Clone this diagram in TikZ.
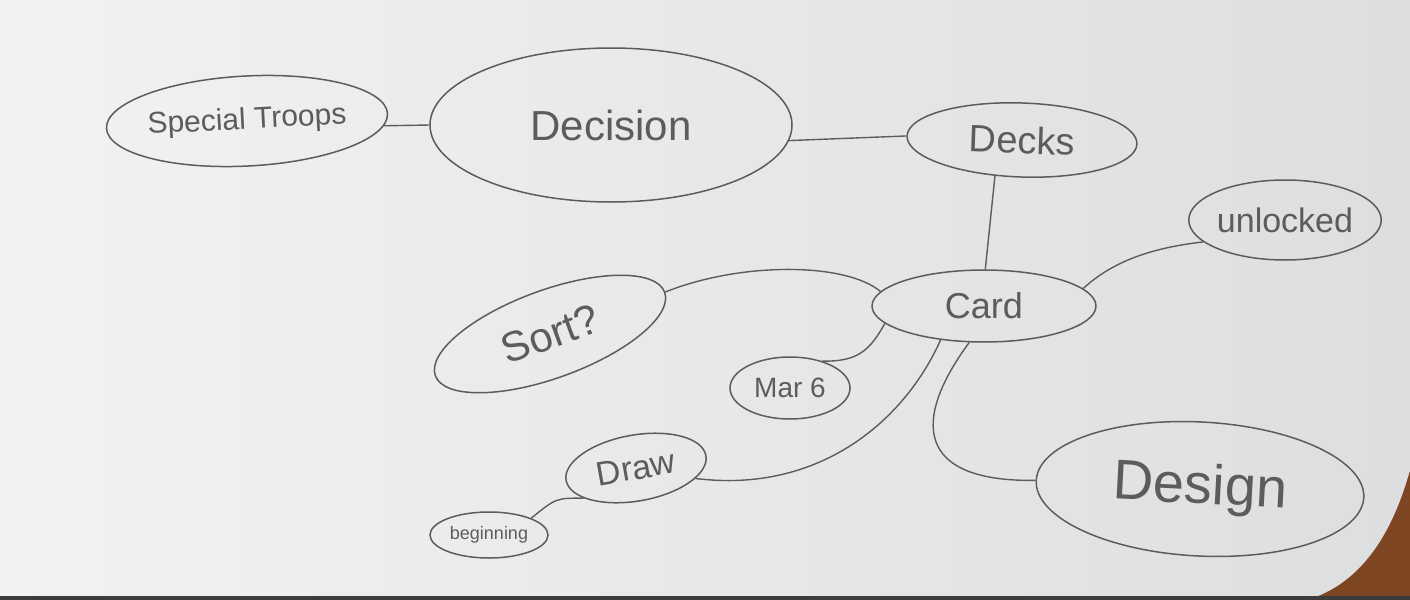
\documentclass[tikz,border=0pt]{standalone}
\usepackage{fontspec}
\setmainfont{Liberation Sans}
\usetikzlibrary{shapes.geometric}
\definecolor{pencil}{HTML}{5C5C5C}
\definecolor{boardA}{HTML}{F2F2F2}
\definecolor{boardB}{HTML}{DCDEE0}
\definecolor{wood}{HTML}{7E4522}
\definecolor{strip}{HTML}{3C3C3C}
\tikzset{
  bubble/.style={draw=pencil, line width=0.75pt, ellipse, inner sep=0pt, text=pencil},
  link/.style={draw=pencil, line width=0.7pt},
  fs/.style={font=\fontsize{#1}{#1}\selectfont}
}
\begin{document}
\begin{tikzpicture}[x=0.5pt,y=-0.5pt]
\useasboundingbox (0,0) rectangle (1410,600);
% background
\fill[wood] (1250,420) rectangle (1410,600);
\shade[left color=boardA, right color=boardB]
  (0,0) -- (1410,0) -- (1410,470) .. controls (1392,535) and (1362,578) .. (1318,596) -- (0,596) -- cycle;
\fill[strip] (0,596) rectangle (1410,600);
% nodes
\node[bubble, fs=15, minimum width=132pt, minimum height=45pt, rotate=3] (troops) at (247,121) {Special Troops};
\node[bubble, fs=21, minimum width=181pt, minimum height=77pt] (decision) at (611,125) {Decision};
\node[bubble, fs=19, minimum width=115pt, minimum height=37pt, rotate=-2] (decks) at (1022,140) {Decks};
\node[bubble, fs=17, minimum width=85pt, minimum height=40pt] (unlocked) at (1285,220) {unlocked};
\node[bubble, fs=18, minimum width=112pt, minimum height=36pt] (card) at (984,306) {Card};
\node[bubble, fs=21, minimum width=122pt, minimum height=44pt, rotate=20] (sort) at (550,334) {Sort?};
\node[bubble, fs=14, minimum width=60pt, minimum height=31pt] (mar) at (790,388) {Mar 6};
\node[bubble, fs=17, minimum width=71pt, minimum height=33pt, rotate=10] (draw) at (636,468) {Draw};
\node[bubble, fs=9, minimum width=59pt, minimum height=23pt] (begin) at (489,535) {beginning};
\node[bubble, fs=28, minimum width=164pt, minimum height=67pt, rotate=-3] (design) at (1200,489) {Design};
% connectors
\draw[link] (troops.-5) -- (decision.west);
\draw[link] (decision.-5) -- (decks.west);
\draw[link] (decks.235) -- (card.88);
\draw[link] (card.10) .. controls (1112,262) and (1150,248) .. (unlocked.195);
\draw[link] (card.172) .. controls (845,262) and (740,262) .. (sort.east);
\draw[link] (card.190) .. controls (870,350) and (858,362) .. (mar.40);
\draw[link] (card.218) .. controls (905,420) and (820,494) .. (draw.-20);
\draw[link] (card.248) .. controls (912,420) and (915,482) .. (design.west);
\draw[link] (draw.200) .. controls (556,498) .. (begin.north east);
\end{tikzpicture}
\end{document}
